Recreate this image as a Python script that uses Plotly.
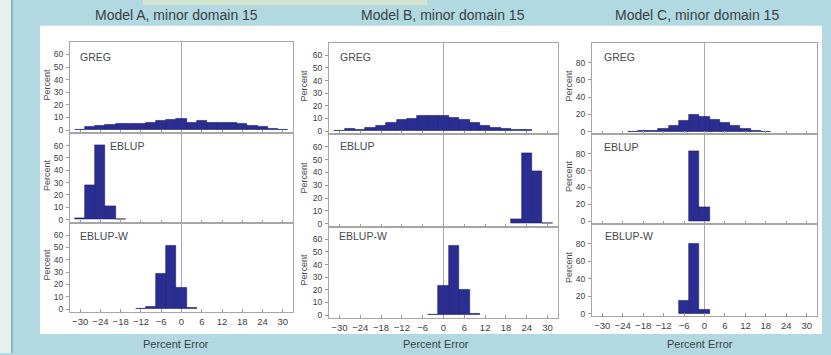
import plotly.graph_objects as go

W, H = 831, 355

# ---------------- data ----------------
PANEL_TITLES = ["Model A, minor domain 15", "Model B, minor domain 15", "Model C, minor domain 15"]
ROW_NAMES = ["GREG", "EBLUP", "EBLUP-W"]
X_LABEL = "Percent Error"
Y_LABEL = "Percent"

X_TICKS = [-30, -24, -18, -12, -6, 0, 6, 12, 18, 24, 30]
Y_TICKS_AB = [0, 10, 20, 30, 40, 50, 60]
Y_TICKS_C = [0, 20, 40, 60, 80]
BIN_WIDTH = 3

GREG_A_X = [-30, -27, -24, -21, -18, -15, -12, -9, -6, -3, 0, 3, 6, 9, 12, 15, 18, 21, 24, 27, 30]
GREG_A_Y = [0.5, 2.4, 3.2, 4.0, 5.4, 5.4, 5.4, 5.5, 7.2, 7.8, 8.6, 6.2, 7.6, 6.2, 6.2, 6.0, 4.8, 3.4, 2.3, 1.3, 0.4]
EBLUP_A_X = [-30, -27, -24, -21, -18]
EBLUP_A_Y = [1.2, 28, 60, 11, 0.5]
EBLUPW_A_X = [-12, -9, -6, -3, 0, 3]
EBLUPW_A_Y = [0.3, 2.0, 29, 51, 17, 1.0]

GREG_B_X = [-30, -27, -24, -21, -18, -15, -12, -9, -6, -3, 0, 3, 6, 9, 12, 15, 18, 21, 24]
GREG_B_Y = [0.6, 1.6, 0.8, 3.0, 4.6, 6.5, 8.6, 9.7, 12.2, 12.0, 12.0, 10.3, 8.6, 6.5, 4.6, 2.8, 1.6, 0.7, 0.7]
EBLUP_B_X = [21, 24, 27, 30]
EBLUP_B_Y = [3.5, 55, 41, 0.5]
EBLUPW_B_X = [-3, 0, 3, 6, 9]
EBLUPW_B_Y = [0.5, 23, 55, 20, 0.8]

GREG_C_X = [-21, -18, -15, -12, -9, -6, -3, 0, 3, 6, 9, 12, 15, 18]
GREG_C_Y = [0.4, 0.8, 1.6, 3.8, 7.2, 13, 19, 17, 14, 10.5, 6.4, 3.0, 1.2, 0.4]
EBLUP_C_X = [-3, 0]
EBLUP_C_Y = [83, 17]
EBLUPW_C_X = [-6, -3, 0]
EBLUPW_C_Y = [15, 80, 5]

SERIES = [
    [(GREG_A_X, GREG_A_Y), (EBLUP_A_X, EBLUP_A_Y), (EBLUPW_A_X, EBLUPW_A_Y)],
    [(GREG_B_X, GREG_B_Y), (EBLUP_B_X, EBLUP_B_Y), (EBLUPW_B_X, EBLUPW_B_Y)],
    [(GREG_C_X, GREG_C_Y), (EBLUP_C_X, EBLUP_C_Y), (EBLUPW_C_X, EBLUPW_C_Y)],
]

# ---------------- layout geometry (pixels) ----------------
PANEL_X = [(70, 293), (329, 558), (592, 817)]
PANEL_ROWS = [
    [(42, 134), (134, 224), (224, 314)],
    [(43, 135), (135, 228), (228, 320)],
    [(43, 135), (135, 225), (225, 318)],
]
Y_RANGES = [[-2.5, 70], [-2.5, 70], [-3, 103]]
TITLE_X = [176, 443, 697]
XLABEL_X = [176, 436, 700]
YLABEL_X = [47, 304, 569]
ROW_LABEL_POS = [
    [(78, 57), (108, 147), (78, 237)],
    [(338, 57), (338, 147), (337, 237)],
    [(602, 57), (602, 148), (603, 237)],
]

def px(x):
    return x / W

def py(y):
    return 1 - y / H

BG_BLUE = "#b2d8e2"
BAR_FILL = "#2a2e92"
BAR_LINE = "#1b1d66"
FRAME = "#a6a6a6"
TXT = "#3a3f44"
FONT = "Liberation Sans, Arial, sans-serif"

fig = go.Figure()
layout = dict(
    width=W, height=H,
    margin=dict(l=0, r=0, t=0, b=0),
    paper_bgcolor=BG_BLUE,
    plot_bgcolor="white",
    showlegend=False,
    bargap=0,
    font=dict(family=FONT, color=TXT),
)
shapes = []
annotations = []

# background decorations
shapes.append(dict(type="rect", xref="paper", yref="paper", x0=px(0), x1=px(11), y0=0, y1=1,
                   fillcolor="#eaf0f0", line=dict(width=0), layer="below"))
shapes.append(dict(type="line", xref="paper", yref="paper", x0=px(12), x1=px(12), y0=0, y1=1,
                   line=dict(color="#7ea6b3", width=1.5), layer="below"))
shapes.append(dict(type="rect", xref="paper", yref="paper", x0=px(143), x1=px(427), y0=py(5), y1=1,
                   fillcolor="#d3e5cf", line=dict(width=0), layer="below"))
shapes.append(dict(type="rect", xref="paper", yref="paper", x0=px(40), x1=px(822), y0=py(336), y1=py(26),
                   fillcolor="white", line=dict(width=0), layer="below"))

for p in range(3):
    yticks = Y_TICKS_C if p == 2 else Y_TICKS_AB
    for r in range(3):
        idx = p * 3 + r + 1
        xs, ys = SERIES[p][r]
        xname = "x" if idx == 1 else f"x{idx}"
        yname = "y" if idx == 1 else f"y{idx}"
        fig.add_trace(go.Bar(
            x=xs, y=ys, width=BIN_WIDTH,
            marker=dict(color=BAR_FILL, line=dict(color=BAR_LINE, width=0.6)),
            xaxis=xname, yaxis=yname, hoverinfo="x+y",
        ))
        top, bot = PANEL_ROWS[p][r]
        xa = dict(
            domain=[px(PANEL_X[p][0]), px(PANEL_X[p][1])],
            anchor=yname, range=[-33, 33],
            tickvals=X_TICKS, showticklabels=(r == 2),
            ticks="inside", ticklen=3, tickcolor="#9a9a9a",
            showgrid=False, zeroline=False,
            showline=True, mirror=True, linecolor=FRAME, linewidth=1,
            tickfont=dict(size=9.5, color=TXT, family=FONT),
            fixedrange=True,
        )
        ya = dict(
            domain=[py(bot), py(top)],
            anchor=xname, range=Y_RANGES[p],
            tickvals=yticks, ticks="outside", ticklen=3, tickcolor="#9a9a9a",
            showgrid=False, zeroline=False,
            showline=True, mirror=True, linecolor=FRAME, linewidth=1,
            tickfont=dict(size=8.5, color=TXT, family=FONT),
            ticklabelstandoff=1,
            fixedrange=True,
        )
        layout["xaxis" if idx == 1 else f"xaxis{idx}"] = xa
        layout["yaxis" if idx == 1 else f"yaxis{idx}"] = ya
        # vertical reference line at 0
        shapes.append(dict(type="line", xref=xname, yref=f"{yname} domain",
                           x0=0, x1=0, y0=0, y1=1,
                           line=dict(color="#a9a9a9", width=1), layer="below"))
        # row label
        lx, ly = ROW_LABEL_POS[p][r]
        annotations.append(dict(text=ROW_NAMES[r], xref="paper", yref="paper",
                                x=px(lx), y=py(ly), xanchor="left", yanchor="middle",
                                showarrow=False, font=dict(size=10.5, color="#45494d", family=FONT)))
        # y title
        annotations.append(dict(text=Y_LABEL, xref="paper", yref="paper",
                                x=px(YLABEL_X[p]), y=py((top + bot) / 2 - 3), textangle=-90,
                                xanchor="center", yanchor="middle",
                                showarrow=False, font=dict(size=9, color="#45494d", family=FONT)))
    annotations.append(dict(text=PANEL_TITLES[p], xref="paper", yref="paper",
                            x=px(TITLE_X[p]), y=py(15), xanchor="center", yanchor="middle",
                            showarrow=False, font=dict(size=14, color=TXT, family=FONT)))
    annotations.append(dict(text=X_LABEL, xref="paper", yref="paper",
                            x=px(XLABEL_X[p]), y=py(346), xanchor="center", yanchor="middle",
                            showarrow=False, font=dict(size=11, color=TXT, family=FONT)))

layout["shapes"] = shapes
layout["annotations"] = annotations
fig.update_layout(**layout)
fig.write_html(
    "out.html",
    config={"displayModeBar": False},
    post_script="document.body.style.margin='0';document.body.style.padding='0';document.body.style.overflow='hidden';",
)
